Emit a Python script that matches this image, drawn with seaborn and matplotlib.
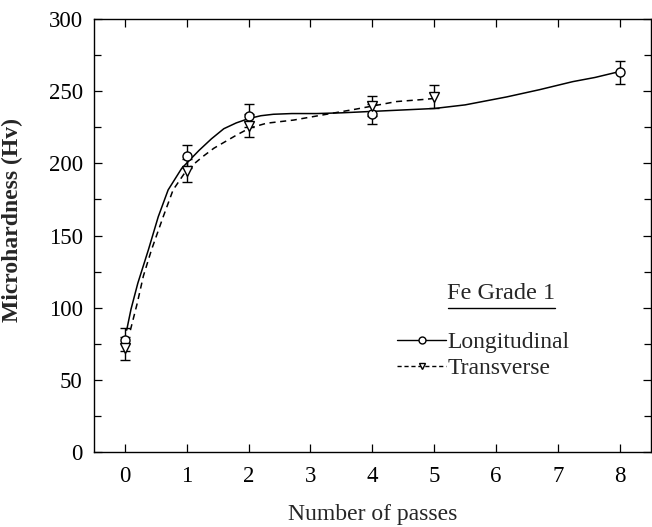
import matplotlib
matplotlib.use("Agg")
import matplotlib.pyplot as plt
import seaborn as sns
import pandas as pd
from matplotlib.lines import Line2D
from matplotlib.ticker import MultipleLocator

# measured points
long_passes = [0, 1, 2, 4, 8]
long_hv = [78, 205, 233, 234, 263]
long_err = [8, 8, 8, 7, 8]

trans_passes = [0, 1, 2, 4, 5]
trans_hv = [72, 195, 226, 239.5, 246]
trans_err = [8, 8, 8, 7, 8]

# fitted curves
long_curve_x = [0.03, 0.1, 0.21, 0.38, 0.54, 0.70, 0.92, 1.2, 1.4, 1.6, 1.8, 2.0, 2.2, 2.4,
                2.7, 3.1, 3.5, 4.0, 4.5, 5.0, 5.5, 6.17, 6.7, 7.24, 7.6, 7.94]
long_curve_y = [84.5, 99, 117, 140, 163, 181.6, 196.6, 209, 217, 224, 228, 231, 233, 234,
                234.5, 234.5, 235, 236, 237, 238, 240.5, 246, 251, 256.6, 259.5, 263]

trans_curve_x = [0.09, 0.2, 0.3, 0.43, 0.62, 0.78, 1.0, 1.26, 1.44, 1.81, 2.02, 2.29, 2.73,
                 3.1, 3.74, 4.39, 4.87, 5.0]
trans_curve_y = [84.5, 103, 122, 140, 163, 181.6, 195.4, 204.7, 210.5, 219.7, 224.5, 227.8, 230,
                 232.8, 237.6, 242.8, 244.4, 245]

x_ticks = [0, 1, 2, 3, 4, 5, 6, 7, 8]
y_ticks = [0, 50, 100, 150, 200, 250, 300]

sns.set_theme(style="ticks")
plt.rcParams['font.family'] = ['Liberation Serif', 'DejaVu Serif']

fig = plt.figure(figsize=(6.52, 5.27), dpi=100)
ax = fig.add_axes([0.144, 0.142, 0.854, 0.822])

lc = pd.DataFrame({"x": long_curve_x, "y": long_curve_y})
tc = pd.DataFrame({"x": trans_curve_x, "y": trans_curve_y})
sns.lineplot(data=lc, x="x", y="y", ax=ax, color="black", lw=1.1, sort=False)
sns.lineplot(data=tc, x="x", y="y", ax=ax, color="black", lw=1.1, sort=False,
             linestyle=(0, (4, 3)))

ax.errorbar(long_passes, long_hv, yerr=long_err, fmt="o", mfc="white", mec="black",
            ms=6.5, mew=1.0, ecolor="black", elinewidth=1.0, capsize=3.5, capthick=1.0, zorder=5)
ax.errorbar(trans_passes, trans_hv, yerr=trans_err, fmt="v", mfc="white", mec="black",
            ms=6.5, mew=1.0, ecolor="black", elinewidth=1.0, capsize=3.5, capthick=1.0, zorder=5)

ax.set_xlim(-0.5, 8.5)
ax.set_ylim(0, 300)
ax.set_xticks(x_ticks)
ax.set_yticks(y_ticks)
ax.yaxis.set_minor_locator(MultipleLocator(25))
ax.tick_params(axis="both", which="both", direction="in", top=True, right=True,
               labelsize=16.5, colors="black")
ax.tick_params(axis="both", which="major", length=6, width=0.9, pad=8)
ax.tick_params(axis="y", which="minor", length=5, width=0.9)
ax.tick_params(axis="x", which="major", pad=10)
for s in ax.spines.values():
    s.set_linewidth(1.0)
    s.set_color("black")

ax.set_xlabel("Number of passes", fontsize=17, labelpad=12)
ax.set_ylabel("Microhardness (Hv)", fontsize=17, fontweight="bold")
ax.yaxis.set_label_coords(-0.127, 0.536)

# legend title with underline
ax.text(0.731, 0.367, "Fe Grade 1", transform=ax.transAxes, fontsize=17.5,
        ha="center", va="center")
ax.add_line(Line2D([0.636, 0.828], [0.333, 0.333], transform=ax.transAxes,
                   color="black", lw=1.0))

handles = [Line2D([], [], color="black", lw=1.0, marker="o", ms=5, mfc="white", mec="black"),
           Line2D([], [], color="black", lw=1.0, ls=(0, (3, 2)), marker="v", ms=5,
                  mfc="white", mec="black")]
ax.legend(handles, ["Longitudinal", "Transverse"], loc="center left",
          bbox_to_anchor=(0.544, 0.224), frameon=False, fontsize=17,
          handlelength=2.1, handletextpad=0.05, labelspacing=0.2, borderpad=0,
          borderaxespad=0)

fig.savefig("out.png", dpi=100)
